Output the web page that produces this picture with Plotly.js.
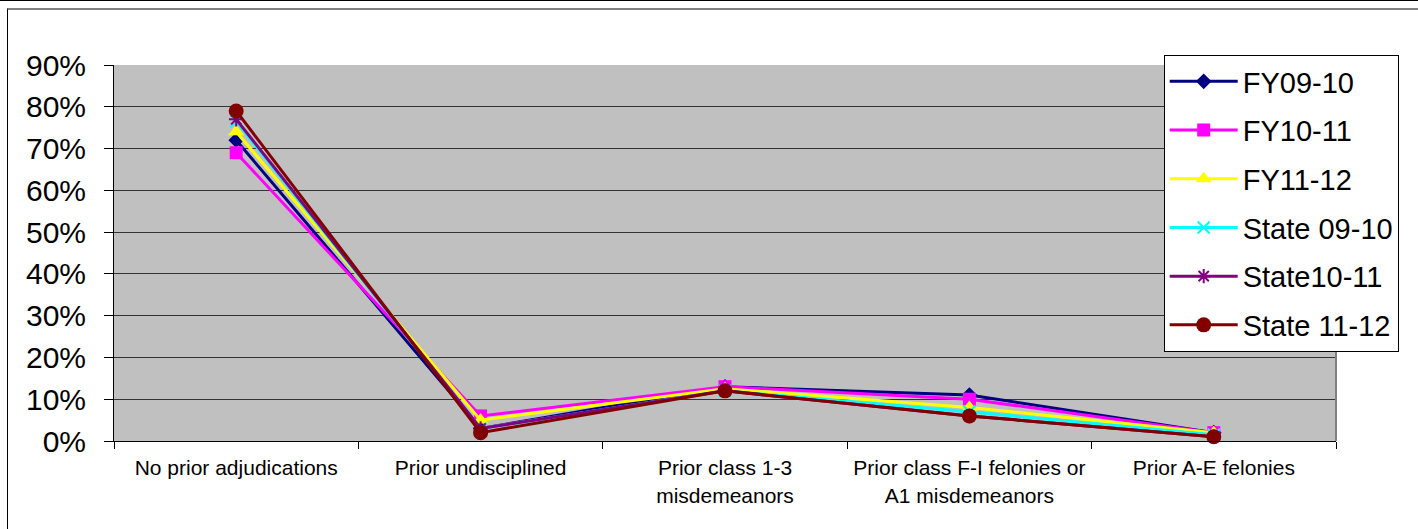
<!DOCTYPE html>
<html>
<head>
<meta charset="utf-8">
<script src="https://cdn.plot.ly/plotly-3.0.1.min.js"></script>
<style>
  html, body { margin: 0; padding: 0; background: #fff; }
  #wrap { position: relative; width: 1418px; height: 529px; overflow: hidden; }
  #chart { position: absolute; left: 0; top: 0; width: 1418px; height: 529px; }
  .topline { position: absolute; left: 0; top: 0; width: 1418px; height: 1px; background: #000; pointer-events: none; }
  .frame { position: absolute; left: 7px; top: 8px; width: 1500px; height: 600px; border-top: 2px solid #808080; border-left: 1px solid #000; pointer-events: none; }
</style>
</head>
<body>
<div id="wrap">
  <div id="chart"></div>
  <div class="topline"></div>
  <div class="frame"></div>
</div>
<script>
const categories = [
  "No prior adjudications",
  "Prior undisciplined",
  "Prior class 1-3<br>misdemeanors",
  "Prior class F-I felonies or<br>A1 misdemeanors",
  "Prior A-E felonies"
];
const seriesNames = ["FY09-10", "FY10-11", "FY11-12", "State 09-10", "State10-11", "State 11-12"];
const fy0910 = [0.72, 0.03, 0.13, 0.11, 0.02];
const fy1011 = [0.69, 0.06, 0.13, 0.10, 0.02];
const fy1112 = [0.74, 0.05, 0.125, 0.08, 0.02];
const state0910 = [0.765, 0.03, 0.12, 0.07, 0.015];
const state1011 = [0.77, 0.03, 0.12, 0.06, 0.01];
const state1112 = [0.79, 0.02, 0.12, 0.06, 0.01];
const yTicks = [0, 0.1, 0.2, 0.3, 0.4, 0.5, 0.6, 0.7, 0.8, 0.9];
const yTickLabels = ["0%", "10%", "20%", "30%", "40%", "50%", "60%", "70%", "80%", "90%"];

const seriesValues = [fy0910, fy1011, fy1112, state0910, state1011, state1112];
const colors = ["#000080", "#FF00FF", "#FFFF00", "#00FFFF", "#800080", "#800000"];
const symbols = ["diamond", "square", "triangle-up", "x-thin-open", "asterisk-open", "circle"];
const sizes = [12, 13, 14, 12, 12, 15];

const traces = seriesValues.map((vals, i) => ({
  type: "scatter",
  mode: "lines+markers",
  x: categories,
  y: vals,
  name: seriesNames[i],
  legendgroup: "g" + i,
  line: { color: colors[i], width: 3 },
  marker: {
    symbol: symbols[i],
    size: sizes[i],
    color: colors[i],
    line: { color: colors[i], width: (symbols[i].indexOf("open") >= 0) ? 2 : 0 }
  },
  cliponaxis: false
}));

const layout = {
  width: 1418,
  height: 529,
  margin: { l: 114, r: 82, t: 65, b: 88, pad: 0 },
  paper_bgcolor: "rgba(0,0,0,0)",
  plot_bgcolor: "#C0C0C0",
  font: { family: "Arial, 'Liberation Sans', sans-serif", color: "#000" },
  showlegend: true,
  legend: {
    x: 0.859, y: 1.0266, xanchor: "left", yanchor: "top",
    bgcolor: "#fff", bordercolor: "#000", borderwidth: 1,
    font: { size: 29, color: "#000" },
    itemwidth: 68,
    tracegroupgap: 8,
    maxheight: 460
  },
  xaxis: {
    type: "category",
    range: [-0.5, 4.5],
    tickson: "boundaries",
    ticks: "outside",
    ticklen: 7,
    tickcolor: "#000",
    showline: true,
    linecolor: "#000",
    linewidth: 1,
    showgrid: false,
    tickfont: { size: 21 },
    ticklabelstandoff: 8,
    fixedrange: true
  },
  yaxis: {
    range: [0, 0.9],
    tickvals: yTicks,
    ticktext: yTickLabels,
    ticks: "outside",
    ticklen: 9,
    tickcolor: "#000",
    showline: true,
    linecolor: "#000",
    linewidth: 1,
    showgrid: true,
    gridcolor: "#333",
    gridwidth: 1,
    zeroline: false,
    tickfont: { size: 30 },
    ticklabelstandoff: 12,
    fixedrange: true
  },
  shapes: [
    { type: "line", xref: "paper", yref: "paper", x0: 1, x1: 1, y0: 0, y1: 1, line: { color: "#808080", width: 2 } }
  ]
};

Plotly.newPlot("chart", traces, layout, { staticPlot: true, displayModeBar: false });
</script>
</body>
</html>
